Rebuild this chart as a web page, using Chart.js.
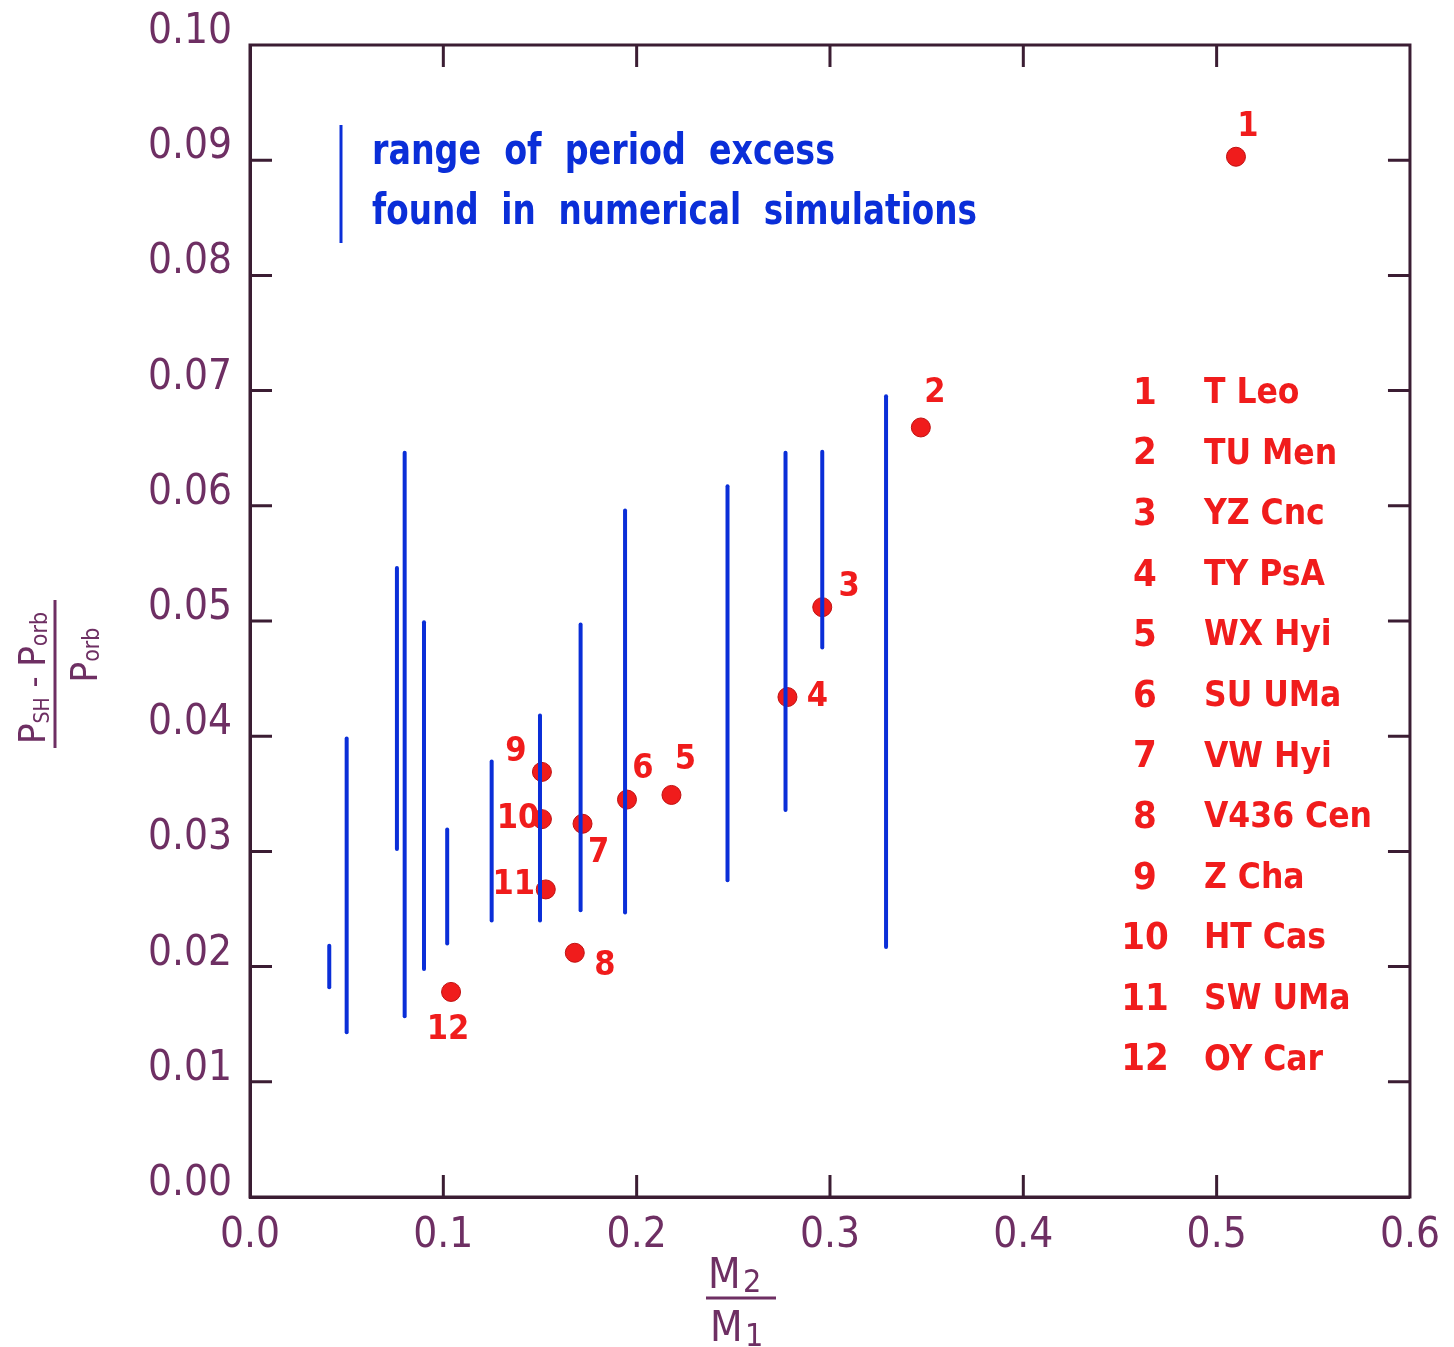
<!DOCTYPE html>
<html>
<head>
<meta charset="utf-8">
<script src="https://cdn.jsdelivr.net/npm/chart.js@4.4.1/dist/chart.umd.min.js"></script>
<style>
  html, body { margin: 0; padding: 0; background: #fff; }
  #wrap { width: 1454px; height: 1347px; position: relative; }
</style>
</head>
<body>
<div id="wrap"><canvas id="chart"></canvas></div>
<script>
// simulated ranges of period excess (blue bars)
const rangeX    = [0.041, 0.050, 0.076, 0.080, 0.090, 0.102, 0.125, 0.150, 0.171, 0.194, 0.247, 0.277, 0.296, 0.329];
const rangeLow  = [0.0182, 0.0143, 0.0302, 0.0157, 0.0198, 0.0220, 0.0240, 0.0240, 0.0249, 0.0247, 0.0275, 0.0336, 0.0477, 0.0217];
const rangeHigh = [0.0218, 0.0398, 0.0546, 0.0646, 0.0499, 0.0319, 0.0378, 0.0418, 0.0497, 0.0596, 0.0617, 0.0646, 0.0647, 0.0695];

// observed systems (red dots)
const starIds   = ['1', '2', '3', '4', '5', '6', '7', '8', '9', '10', '11', '12'];
const starNames = ['T Leo', 'TU Men', 'YZ Cnc', 'TY PsA', 'WX Hyi', 'SU UMa', 'VW Hyi', 'V436 Cen', 'Z Cha', 'HT Cas', 'SW UMa', 'OY Car'];
const starX     = [0.510, 0.347, 0.296, 0.278, 0.218, 0.195, 0.172, 0.168, 0.151, 0.151, 0.153, 0.104];
const starY     = [0.0903, 0.0668, 0.0512, 0.0434, 0.0349, 0.0345, 0.0324, 0.0212, 0.0369, 0.0328, 0.0267, 0.0178];

// axis ticks
const xTickValues = [0.0, 0.1, 0.2, 0.3, 0.4, 0.5, 0.6];
const yTickValues = [0.00, 0.01, 0.02, 0.03, 0.04, 0.05, 0.06, 0.07, 0.08, 0.09, 0.10];

// where each number label sits relative to its dot (px)
const labelOffsets = [[12, -30], [14, -34], [27, -20], [30, 0], [14, -35], [16, -30],
                      [16, 29], [30, 13], [-26, -20], [-24, 0], [-32, -4], [-3, 38]];

const FONT = "'DejaVu Sans Condensed', 'DejaVu Sans', sans-serif";
const AXIS_TEXT = '#6e2f63';
const AXIS_LINE = '#3b1d33';
const RED = '#f01c1c';
const BLUE = '#0a2ed8';

const rangeSets = rangeX.map((x, i) => ({
    type: 'line',
    data: [{ x: x, y: rangeLow[i] }, { x: x, y: rangeHigh[i] }],
    borderColor: BLUE,
    borderWidth: 4,
    pointRadius: 0,
    showLine: true,
    borderCapStyle: 'round'
}));

const starSet = {
    type: 'scatter',
    data: starX.map((x, i) => ({ x: x, y: starY[i] })),
    backgroundColor: RED,
    borderColor: '#c01010',
    borderWidth: 1,
    pointRadius: 9.5
};

function drawText(ctx, text, x, y, font, color, align, width) {
    ctx.save();
    ctx.font = font;
    ctx.fillStyle = color;
    ctx.textBaseline = 'middle';
    const w = ctx.measureText(text).width;
    const sx = width ? width / w : 1;
    ctx.translate(x, y);
    ctx.scale(sx, 1);
    ctx.textAlign = align || 'left';
    ctx.fillText(text, 0, 0);
    ctx.restore();
}

// frame, inside ticks, annotations and axis titles
const decorPlugin = {
    id: 'decor',
    afterDraw(chart) {
        const ctx = chart.ctx;
        const a = chart.chartArea;
        const xs = chart.scales.x, ys = chart.scales.y;
        ctx.save();
        ctx.strokeStyle = AXIS_LINE;
        ctx.lineWidth = 3;
        ctx.strokeRect(a.left, a.top, a.right - a.left, a.bottom - a.top);
        const tl = 22;
        ctx.beginPath();
        xTickValues.slice(1, -1).forEach(v => {
            const px = xs.getPixelForValue(v);
            ctx.moveTo(px, a.bottom); ctx.lineTo(px, a.bottom - tl);
            ctx.moveTo(px, a.top); ctx.lineTo(px, a.top + tl);
        });
        yTickValues.slice(1, -1).forEach(v => {
            const py = ys.getPixelForValue(v);
            ctx.moveTo(a.left, py); ctx.lineTo(a.left + tl, py);
            ctx.moveTo(a.right, py); ctx.lineTo(a.right - tl, py);
        });
        ctx.stroke();
        ctx.restore();

        // dot labels
        starIds.forEach((id, i) => {
            const px = xs.getPixelForValue(starX[i]) + labelOffsets[i][0];
            const py = ys.getPixelForValue(starY[i]) + labelOffsets[i][1];
            drawText(ctx, id, px, py, 'bold 34px ' + FONT, RED, 'center');
        });

        // legend list
        starIds.forEach((id, i) => {
            const py = 394 + i * 60.6;
            drawText(ctx, id, 1145, py, 'bold 38px ' + FONT, RED, 'center');
            drawText(ctx, starNames[i], 1204, py, 'bold 35px ' + FONT, RED, 'left');
        });

        // key for the blue ranges
        ctx.save();
        ctx.strokeStyle = BLUE;
        ctx.lineWidth = 3;
        ctx.beginPath();
        ctx.moveTo(341, 125); ctx.lineTo(341, 243);
        ctx.stroke();
        ctx.restore();
        drawText(ctx, 'range  of  period  excess', 372, 153, '600 42px ' + FONT, BLUE, 'left', 463);
        drawText(ctx, 'found  in  numerical  simulations', 372, 213, '600 42px ' + FONT, BLUE, 'left', 605);

        // x title: M2 / M1
        ctx.save();
        ctx.fillStyle = AXIS_TEXT;
        ctx.strokeStyle = AXIS_TEXT;
        ctx.textBaseline = 'alphabetic';
        ctx.font = '42px ' + FONT;
        ctx.textAlign = 'left';
        ctx.fillText('M', 708, 1288);
        ctx.fillText('M', 710, 1341);
        ctx.font = '32px ' + FONT;
        ctx.fillText('2', 743, 1292);
        ctx.fillText('1', 745, 1346);
        ctx.lineWidth = 3;
        ctx.beginPath();
        ctx.moveTo(706, 1298); ctx.lineTo(776, 1298);
        ctx.stroke();
        ctx.restore();

        // y title: (P_SH - P_orb) / P_orb, rotated
        ctx.save();
        ctx.translate(55, 674);
        ctx.rotate(-Math.PI / 2);
        ctx.fillStyle = AXIS_TEXT;
        ctx.strokeStyle = AXIS_TEXT;
        ctx.textBaseline = 'alphabetic';
        ctx.lineWidth = 3;
        ctx.beginPath();
        ctx.moveTo(-74, 0); ctx.lineTo(74, 0);
        ctx.stroke();
        const parts = [['P', 38, 0], ['SH', 21, 4], [' - ', 34, 0], ['P', 38, 0], ['orb', 23, 2]];
        let total = 0;
        parts.forEach(p => { ctx.font = p[1] + 'px ' + FONT; total += ctx.measureText(p[0]).width; });
        let u = -4 - total / 2;
        parts.forEach(p => {
            ctx.font = p[1] + 'px ' + FONT;
            ctx.fillText(p[0], u, -10 + p[2]);
            u += ctx.measureText(p[0]).width;
        });
        const den = [['P', 38, 0], ['orb', 23, 2]];
        total = 0;
        den.forEach(p => { ctx.font = p[1] + 'px ' + FONT; total += ctx.measureText(p[0]).width; });
        u = 19 - total / 2;
        den.forEach(p => {
            ctx.font = p[1] + 'px ' + FONT;
            ctx.fillText(p[0], u, 42 + p[2]);
            u += ctx.measureText(p[0]).width;
        });
        ctx.restore();
    }
};

new Chart(document.getElementById('chart'), {
    type: 'scatter',
    data: { datasets: [...rangeSets, starSet] },
    options: {
        responsive: true,
        maintainAspectRatio: false,
        animation: false,
        layout: { padding: { top: 45, right: 42, left: 0, bottom: 0 } },
        plugins: { legend: { display: false }, tooltip: { enabled: false } },
        scales: {
            x: {
                type: 'linear',
                min: 0, max: 0.6,
                afterBuildTicks: s => { s.ticks = xTickValues.map(v => ({ value: v })); },
                afterFit: s => { s.height = 150; },
                ticks: {
                    padding: 14,
                    color: AXIS_TEXT,
                    font: { family: FONT, size: 42 },
                    callback: v => v.toFixed(1)
                },
                grid: { display: true, drawOnChartArea: false, drawTicks: false },
                border: { display: true, color: AXIS_LINE, width: 3 }
            },
            y: {
                type: 'linear',
                min: 0, max: 0.1,
                afterBuildTicks: s => { s.ticks = yTickValues.map(v => ({ value: v })); },
                afterFit: s => { s.width = 250; },
                ticks: {
                    padding: 18,
                    labelOffset: -13,
                    color: AXIS_TEXT,
                    font: { family: FONT, size: 42 },
                    callback: v => v.toFixed(2)
                },
                grid: { display: true, drawOnChartArea: false, drawTicks: false },
                border: { display: true, color: AXIS_LINE, width: 3 }
            }
        }
    },
    plugins: [decorPlugin]
});
</script>
</body>
</html>
